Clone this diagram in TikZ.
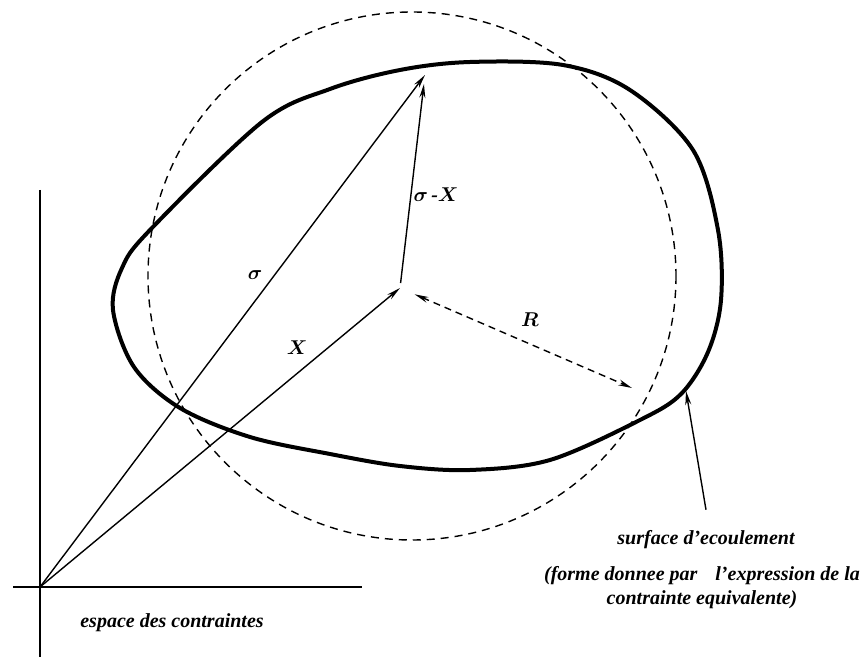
\documentclass[tikz,border=0pt]{standalone}
\usepackage{amsmath,bm}
\usepackage{fontspec}
\setmainfont{Liberation Serif}
\usetikzlibrary{arrows.meta,positioning}
\begin{document}
\begin{tikzpicture}[x=0.5pt,y=-0.5pt,>={Stealth[length=7pt,width=3pt]},
  every node/.style={font=\bfseries\itshape},
  vec/.style={->,line width=0.7pt},
  axis/.style={line width=1.3pt},
  surf/.style={line width=2pt},
  crit/.style={line width=0.7pt,dash pattern=on 4pt off 3pt}]
\useasboundingbox (0,0) rectangle (868,657);
% points
\coordinate (O) at (40,587);
\coordinate (C) at (400,288);
\coordinate (S) at (425,75);
\coordinate (Rend) at (632,388);
\coordinate (F) at (686,391);
% axes
\draw[axis] (40,190) -- (40,657);
\draw[axis] (13,587) -- (362,587);
% critere de von Mises
\draw[crit] (412,276) circle[radius=264];
% surface d'ecoulement
\draw[surf] plot[smooth cycle,tension=0.55] coordinates {(470,62) (563,65) (630,90) (693,150) (718,230) (721,300) (708,352) (681,394) (640,420) (550,460) (470,470) (400,466) (330,454) (250,437) (180,408) (134,367) (113,310) (122,268) (150,230) (262,122) (330,89) (400,70)};
% vecteurs
\draw[vec] (O) -- (S);
\draw[vec] (O) -- (C);
\draw[vec,shorten >=4.5pt,shorten <=2.5pt] (C) -- (S);
\draw[vec,<->,dash pattern=on 3.5pt off 2.5pt,shorten <=8pt] (C) -- (Rend);
% etiquettes
\node (sig) at (255,275) {$\bm{\sigma}$};
\node (X) at (297,348) {$\bm{X}$};
\node (SX) at (436,195) {$\bm{\sigma}\,$-$\bm{X}$};
\node (R) at (530,320) {$\bm{R}$};
\node (esp) at (172,623) {espace des contraintes};
\node (ecoul) at (706,540) {surface d'ecoulement};
\node[align=center] (forme) at (702,588) {(forme donnee par\hspace{0.9em}l'expression de la\\contrainte equivalente)};
\draw[vec] (ecoul.north) ++(0,-14) coordinate (T) (T) -- (F);
\end{tikzpicture}
\end{document}
